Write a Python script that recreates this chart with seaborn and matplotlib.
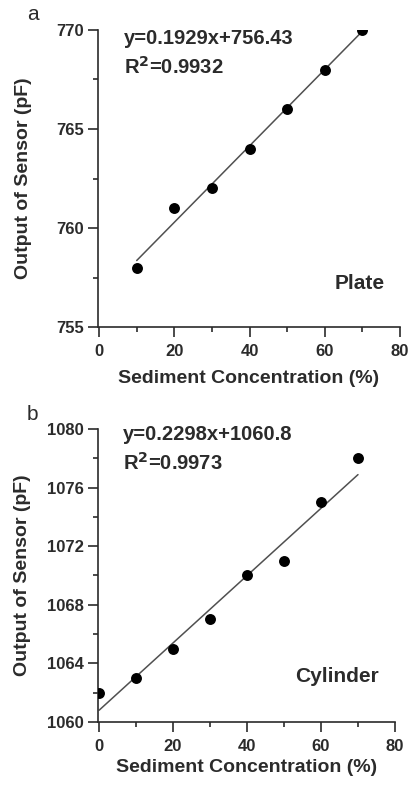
import numpy as np
import pandas as pd
import seaborn as sns
import matplotlib.pyplot as plt
from matplotlib.ticker import MultipleLocator

# values
conc_a   = [10, 20, 30, 40, 50, 60, 70]
output_a = [758, 761, 762, 764, 766, 768, 770]
slope_a, icpt_a, r2_a = 0.1929, 756.43, 0.9932

conc_b   = [0, 10, 20, 30, 40, 50, 60, 70]
output_b = [1062, 1063, 1065, 1067, 1070, 1071, 1075, 1078]
slope_b, icpt_b, r2_b = 0.2298, 1060.8, 0.9973

sns.set_style("ticks")
plt.rcParams['font.family'] = ['Liberation Sans', 'DejaVu Sans']
ink = "#2b2b2b"

fig = plt.figure(figsize=(4.11, 7.85), dpi=100)
ax_a = fig.add_axes([0.2384, 0.5834, 0.7346, 0.3784])
ax_b = fig.add_axes([0.2384, 0.0803, 0.7226, 0.3732])


def panel(ax, xs, ys, slope, icpt, r2, ylim, ymajor, name, spots):
    df = pd.DataFrame({"conc": xs, "out": ys})
    fit = pd.DataFrame({"conc": [min(xs), max(xs)]})
    fit["out"] = slope * fit["conc"] + icpt
    sns.lineplot(data=fit, x="conc", y="out", ax=ax, color="#505050", lw=1.1)
    sns.scatterplot(data=df, x="conc", y="out", ax=ax, color="black", s=62,
                    edgecolor="black", linewidth=0, zorder=3)

    ax.set_xlim(-0.3, 80)
    ax.set_ylim(*ylim)
    ax.xaxis.set_major_locator(MultipleLocator(20))
    ax.xaxis.set_minor_locator(MultipleLocator(10))
    ax.yaxis.set_major_locator(MultipleLocator(ymajor))
    ax.yaxis.set_minor_locator(MultipleLocator(ymajor / 2))
    ax.tick_params(which="major", length=7, width=1.2, colors=ink, labelsize=12)
    ax.tick_params(which="minor", length=3.5, width=1.2, colors=ink)
    ax.tick_params(axis="x", which="major", pad=5)
    ax.tick_params(axis="y", which="major", pad=3)
    for lab in ax.get_xticklabels() + ax.get_yticklabels():
        lab.set_fontweight("bold")
    for side in ["top", "right"]:
        ax.spines[side].set_visible(False)
    for side in ["left", "bottom"]:
        ax.spines[side].set_color(ink)
        ax.spines[side].set_linewidth(1.2)

    ax.set_xlabel("Sediment Concentration (%)", fontsize=14, fontweight="bold", color=ink, va="center")
    ax.set_ylabel("Output of Sensor (pF)", fontsize=14, fontweight="bold", color=ink, va="center")
    ax.xaxis.set_label_coords(0.5, spots["xlab"])
    ax.yaxis.set_label_coords(spots["ylab"], 0.5)

    ax.text(spots["eqx"], spots["eq1"], f"y={slope}x+{icpt}", transform=ax.transAxes,
            fontsize=14.5, fontweight="bold", color=ink, va="center")
    ax.text(spots["eqx"], spots["eq2"], f"R$^\\mathbf{{2}}$={r2}", transform=ax.transAxes,
            fontsize=14.5, fontweight="bold", color=ink, va="center")
    ax.text(spots["namex"], spots["namey"], name, transform=ax.transAxes, fontsize=15,
            fontweight="bold", color=ink, ha="right", va="center")


panel(ax_a, conc_a, output_a, slope_a, icpt_a, r2_a, (755, 770), 5, "Plate",
      {"xlab": -0.172, "ylab": -0.248, "eqx": 0.086, "eq1": 0.973, "eq2": 0.875,
       "namex": 0.95, "namey": 0.148})
panel(ax_b, conc_b, output_b, slope_b, icpt_b, r2_b, (1060, 1080), 4, "Cylinder",
      {"xlab": -0.157, "ylab": -0.2525, "eqx": 0.084, "eq1": 0.98, "eq2": 0.884,
       "namex": 0.946, "namey": 0.154})

# panel letters
fig.text(27 / 411, 1 - 20 / 785, "a", fontsize=15, color=ink, ha="left", va="baseline")
fig.text(27 / 411, 1 - 420 / 785, "b", fontsize=15, color=ink, ha="left", va="baseline")

fig.savefig("out.png", dpi=100)
